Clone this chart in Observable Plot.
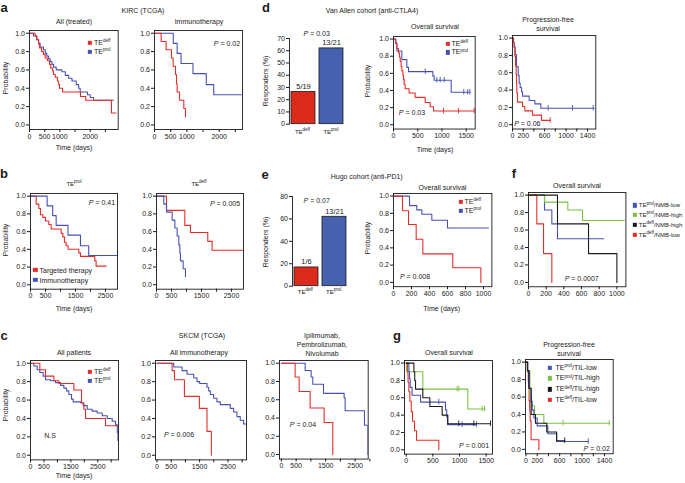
<!DOCTYPE html>
<html><head><meta charset="utf-8">
<script src="https://cdn.jsdelivr.net/npm/d3@7"></script>
<script src="https://cdn.jsdelivr.net/npm/@observablehq/plot@0.6"></script>
<style>
body{margin:0;background:#fff}
#root{position:relative;width:685px;height:483px;overflow:hidden;font-family:"Liberation Sans",Arial,sans-serif;color:#1a1a1a;background:#fff}
.t{position:absolute;white-space:nowrap;font-size:7px;line-height:1;transform:translate(-50%,-50%)}
.l{transform:translate(0,-50%)}
.rot{transform:translate(-50%,-50%) rotate(-90deg)}
.lt{font-weight:bold;font-size:13px}
.sm{font-size:6px}
.sw{position:absolute;width:4.3px;height:4.3px;transform:translate(-50%,-50%)}
sup{font-size:4.5px;vertical-align:0;position:relative;top:-2.6px}
svg.p{position:absolute;overflow:visible}
</style></head>
<body><div id="root"></div>
<script>
// ---------- colours ----------
const RED="#e52d27", BLUE="#4751b5", GREEN="#7cc242", BLACK="#1a1a1a";
const BAR_RED="#dc2b1c", BAR_BLUE="#4661ad";

// ---------- a: KIRC (TCGA) ----------
const aAllDeffT=[0,187,240,300,330,400,460,515,590,660,700,760,790,850,920,960,990,1090,1680,1850,2700,2850];
const aAllDeffS=[1,0.97,0.93,0.88,0.84,0.80,0.77,0.73,0.70,0.66,0.62,0.59,0.55,0.52,0.48,0.44,0.40,0.36,0.31,0.27,0.13,0.13];
const aAllProlT=[0,130,240,300,350,460,520,570,630,680,740,790,880,1070,1180,1290,1400,1540,1620,1670,1910,2000,2110,2770];
const aAllProlS=[1,0.97,0.93,0.89,0.85,0.82,0.78,0.75,0.72,0.69,0.66,0.63,0.60,0.58,0.54,0.51,0.48,0.44,0.40,0.36,0.33,0.30,0.27,0.27];
const aImmDeffT=[0,206,360,525,577,649,680,700,773,906,958];
const aImmDeffS=[1,0.91,0.82,0.73,0.64,0.55,0.45,0.36,0.27,0.18,0.09];
const aImmProlT=[0,580,700,820,1190,1600,1830,2680];
const aImmProlS=[1,0.89,0.78,0.67,0.56,0.44,0.33,0.33];

// ---------- b ----------
const bProlTarT=[0,189,278,333,411,500,611,688,1021,1077,1132,1188,1254,1610,1665,2142,2187,2520];
const bProlTarS=[1,0.91,0.86,0.79,0.76,0.72,0.68,0.63,0.58,0.54,0.48,0.44,0.40,0.36,0.32,0.27,0.21,0.21];
const bProlImmT=[0,555,740,855,1250,1665,1940,2890];
const bProlImmS=[1,0.89,0.78,0.67,0.56,0.44,0.33,0.33];
const bDeffTarT=[0,333,944,1132,1709,1854,2886];
const bDeffTarS=[1,0.84,0.67,0.59,0.49,0.39,0.39];
const bDeffImmT=[0,244,333,522,611,688,744,777,799,888,966];
const bDeffImmS=[1,0.91,0.82,0.73,0.64,0.55,0.45,0.36,0.27,0.18,0.09];

// ---------- c: SKCM (TCGA) ----------
const cAllDeffT=[0,347,558,868,1054,1612,1897,1984,2046,2790,3249];
const cAllDeffS=[1,0.93,0.86,0.81,0.78,0.71,0.57,0.50,0.40,0.32,0.32];
const cAllProlT=[0,124,248,347,471,558,744,930,1116,1240,1339,1426,1525,1587,1860,1959,2108,2294,2480,2666,2852,3038,3162,3224,3249];
const cAllProlS=[1,0.97,0.93,0.90,0.86,0.82,0.81,0.79,0.76,0.73,0.70,0.66,0.61,0.58,0.57,0.54,0.50,0.48,0.46,0.43,0.40,0.37,0.33,0.25,0.16];
const cImmDeffT=[0,532,614,965,1492,1760,1913];
const cImmDeffS=[1,0.92,0.82,0.64,0.51,0.26,0];
const cImmProlT=[0,590,883,1059,1293,1410,1503,1760,1820,1878,1995,2112,2229,2580,2697,2814,2931,3048,3140];
const cImmProlS=[1,0.96,0.92,0.88,0.84,0.80,0.78,0.74,0.70,0.66,0.62,0.58,0.55,0.51,0.47,0.42,0.38,0.34,0.34];
const cIpiDeffT=[0,466,602,975,1449,1743];
const cIpiDeffS=[1,0.85,0.69,0.51,0.35,0];
const cIpiProlT=[0,805,1008,1065,1427,2127,2161,2817,2930];
const cIpiProlS=[1,0.92,0.85,0.77,0.67,0.62,0.48,0.32,0];

// ---------- d: Van Allen cohort ----------
const dCats=["deff","prol"];
const dResp=[26.3,61.9];
const dLabs=["5/19","13/21"];
const dOsDeffT=[0,41,69,103,124,138,158,172,193,206,220,241,323,447,654,757,826,1665];
const dOsDeffS=[1,0.95,0.89,0.84,0.79,0.74,0.68,0.63,0.58,0.53,0.47,0.42,0.37,0.32,0.26,0.21,0.16,0.16];
const dOsDeffCT=[1032,1342,1665];
const dOsDeffCS=[0.16,0.16,0.16];
const dOsProlT=[0,50,69,172,275,310,812,839,1190,1582];
const dOsProlS=[1,0.95,0.86,0.76,0.67,0.62,0.57,0.52,0.38,0.38];
const dOsProlCT=[654,894,963,1046,1450,1530,1575];
const dOsProlCS=[0.62,0.52,0.52,0.52,0.38,0.38,0.38];
const dPfsDeffT=[0,19,31,44,56,68,75,81,93,187,230,373,541,703];
const dPfsDeffS=[1,0.95,0.89,0.79,0.68,0.58,0.47,0.37,0.26,0.21,0.16,0.11,0.05,0.05];
const dPfsDeffCT=[703];
const dPfsDeffCS=[0.05];
const dPfsProlT=[0,19,31,50,75,106,124,143,168,187,311,417,529,1524];
const dPfsProlS=[1,0.95,0.90,0.81,0.67,0.57,0.48,0.43,0.38,0.33,0.28,0.24,0.19,0.19];
const dPfsProlCT=[665,1119,1505];
const dPfsProlCS=[0.19,0.19,0.19];

// ---------- e: Hugo cohort ----------
const eCats=["deff","prol"];
const eResp=[16.7,61.9];
const eLabs=["1/6","13/21"];
const eOsDeffT=[0,100,167,252,326,659,971];
const eOsDeffS=[1,0.83,0.67,0.50,0.33,0.17,0];
const eOsProlT=[0,178,259,315,426,600,1055];
const eOsProlS=[1,0.89,0.84,0.79,0.72,0.63,0.63];

// ---------- f: NMB ----------
const fProlLowT=[0,181,264,328,850];   const fProlLowS=[1,0.83,0.67,0.50,0.50];
const fProlHighT=[0,181,445,611,1083]; const fProlHighS=[1,0.92,0.83,0.71,0.71];
const fDeffHighT=[0,328,679,1000];     const fDeffHighS=[1,0.67,0.33,0];
const fDeffLowT=[0,94,170,264];        const fDeffLowS=[1,0.67,0.33,0];

// ---------- g: TIL ----------
const gOsDeffLowT=[0,25,35,50,69,94,119,156,194,612];
const gOsDeffLowS=[1,0.89,0.78,0.67,0.56,0.44,0.33,0.22,0.11,0];
const gOsProlHighT=[0,6,312,1156,1487];
const gOsProlHighS=[1,0.9,0.7,0.47,0.47];
const gOsProlHighCT=[956,987,1425,1470];
const gOsProlHighCS=[0.7,0.7,0.47,0.47];
const gOsDeffHighT=[0,144,160,175,312,444,675,781,1581];
const gOsDeffHighS=[1,0.9,0.8,0.7,0.6,0.5,0.4,0.3,0.3];
const gOsDeffHighCT=[987,1269,1581];
const gOsDeffHighCS=[0.3,0.3,0.3];
const gOsProlLowT=[0,50,62,75,110,269,737,760,775,1319];
const gOsProlLowS=[1,0.9,0.82,0.72,0.63,0.55,0.46,0.38,0.29,0.29];
const gOsProlLowCT=[612,1050,1319];
const gOsProlLowCS=[0.55,0.29,0.29];
const gPfsDeffLowT=[0,25,40,55,65,75,90,230];
const gPfsDeffLowS=[1,0.89,0.78,0.56,0.44,0.33,0.11,0];
const gPfsProlHighT=[0,20,70,100,152,318,1490];
const gPfsProlHighS=[1,0.9,0.6,0.5,0.4,0.3,0.3];
const gPfsProlHighCT=[662,1485];
const gPfsProlHighCS=[0.3,0.3];
const gPfsDeffHighT=[0,30,50,92,169,370,546,695];
const gPfsDeffHighS=[1,0.9,0.7,0.4,0.3,0.2,0.1,0.1];
const gPfsDeffHighCT=[690];
const gPfsDeffHighCS=[0.1];
const gPfsProlLowT=[0,30,60,90,110,140,199,389,546,1113];
const gPfsProlLowS=[1,0.9,0.7,0.55,0.45,0.36,0.27,0.18,0.09,0.09];
const gPfsProlLowCT=[1110];
const gPfsProlLowCS=[0.09];

// ---------- tick values ----------
const probTicks=[0,0.2,0.4,0.6,0.8,1];
const t500=[0,500,1000,1500,2000,2500];
const t500c=[0,500,1000,1500,2000,2500,3000];
const t200=[0,200,400,600,800,1000,1200,1400];
const t200e=[0,200,400,600,800,1000];
const t500d=[0,500,1000,1500];

// ================= drawing =================
const root=document.getElementById("root");
const FONT='"Liberation Sans",Arial,sans-serif';
function place(svg,x,y){svg.classList.add("p");svg.style.left=x+"px";svg.style.top=y+"px";root.appendChild(svg);}
function T(x,y,html,cls=""){const d=document.createElement("div");d.className="t "+cls;d.style.left=x+"px";d.style.top=y+"px";d.innerHTML=html;root.appendChild(d);}
function SW(x,y,col){const d=document.createElement("div");d.className="sw";d.style.left=x+"px";d.style.top=y+"px";d.style.background=col;root.appendChild(d);}
function series(t,s,color,ct,cs){return {t,s,color,ct,cs};}

function km(p){
  const mL=22,mR=2,mT=2,mB=16,pt=0.03,pb=0.05;
  const unit=p.y0-p.y1, top=p.y1-pt*unit, fh=(1+pt+pb)*unit, fw=p.xr-p.xl;
  const xdom=[(p.xl-p.x0)/p.k,(p.xr-p.x0)/p.k];
  const marks=[];
  p.curves.forEach(c=>{
    const data=c.t.map((t,i)=>({t,s:c.s[i]}));
    marks.push(Plot.line(data,{x:"t",y:"s",curve:"step-after",stroke:c.color,strokeWidth:1.1,clip:true}));
    if(c.ct) marks.push(Plot.ruleX(c.ct.map((t,i)=>({t,s:c.cs[i]})),{x:"t",y1:d=>d.s-0.032,y2:d=>d.s+0.032,stroke:c.color,strokeWidth:0.9}));
  });
  marks.push(Plot.frame({stroke:"#1a1a1a",strokeWidth:0.9}));
  marks.push(Plot.axisX({ticks:p.xt,tickSize:3,tickPadding:1,tickFormat:d=>p.xl2.includes(d)?String(d):""}));
  marks.push(Plot.axisY({ticks:probTicks,tickSize:3,tickPadding:1.5,tickFormat:d3.format(".1f")}));
  const svg=Plot.plot({width:fw+mL+mR,height:fh+mT+mB,marginLeft:mL,marginRight:mR,marginTop:mT,marginBottom:mB,
    x:{domain:xdom,label:null},y:{domain:[-pb,1+pt],label:null},
    style:{fontSize:"7px",fontFamily:FONT,background:"transparent",color:"#1a1a1a",overflow:"visible"},marks});
  place(svg,p.xl-mL,top-mT);
}

function bars(p){
  const mL=20,mR=2,mT=12,mB=2;
  const fw=p.xr-p.xl, fh=p.y0-p.yTop;
  const data=p.cats.map((c,i)=>({c,v:p.vals[i],lab:p.labs[i],col:p.cols[i]}));
  const svg=Plot.plot({width:fw+mL+mR,height:fh+mT+mB,marginLeft:mL,marginRight:mR,marginTop:mT,marginBottom:mB,
    x:{domain:p.cats,paddingInner:0.15,paddingOuter:0.05,axis:null,label:null},
    y:{domain:[0,p.ymax],label:null},
    color:{type:"identity"},
    style:{fontSize:"7px",fontFamily:FONT,background:"transparent",color:"#1a1a1a",overflow:"visible"},
    marks:[
      Plot.barY(data,{x:"c",y:"v",fill:"col",stroke:"#1a1a1a",strokeWidth:0.8}),
      Plot.text(data,{x:"c",y:"v",text:"lab",dy:-5.5,fontSize:7.5}),
      Plot.axisY({ticks:p.yt,tickSize:3,tickPadding:1.5}),
      Plot.frame({anchor:"left",stroke:"#1a1a1a",strokeWidth:0.9})
    ]});
  place(svg,p.xl-mL,p.yTop-mT);
}

// ---- a ----
km({x0:29.3,xl:29.3,xr:118,k:0.03035,y1:32.3,y0:124,xt:t500,xl2:[0,500,1000,2000],
  curves:[series(aAllProlT,aAllProlS,BLUE),series(aAllDeffT,aAllDeffS,RED)]});
km({x0:154,xl:154,xr:242,k:0.03235,y1:32.3,y0:124,xt:t500,xl2:[0,500,1000,2000],
  curves:[series(aImmProlT,aImmProlS,BLUE),series(aImmDeffT,aImmDeffS,RED)]});
// ---- b ----
km({x0:30,xl:30,xr:117,k:0.030,y1:195.7,y0:284.3,xt:t500,xl2:[0,500,1500,2500],
  curves:[series(bProlTarT,bProlTarS,RED),series(bProlImmT,bProlImmS,BLUE)]});
km({x0:156,xl:156,xr:243,k:0.030,y1:195.7,y0:284.3,xt:t500,xl2:[0,500,1500,2500],
  curves:[series(bDeffTarT,bDeffTarS,RED),series(bDeffImmT,bDeffImmS,BLUE)]});
// ---- c ----
km({x0:30,xl:30,xr:118,k:0.0269,y1:362.3,y0:454.3,xt:t500c,xl2:[0,500,1500,2500],
  curves:[series(cAllProlT,cAllProlS,BLUE),series(cAllDeffT,cAllDeffS,RED)]});
km({x0:156.5,xl:155,xr:246,k:0.0284,y1:362.3,y0:454.3,xt:t500c,xl2:[0,500,1500,2500],
  curves:[series(cImmProlT,cImmProlS,BLUE),series(cImmDeffT,cImmDeffS,RED)]});
km({x0:281.2,xl:279.3,xr:368,k:0.0295,y1:362.7,y0:454,xt:t500c,xl2:[0,500,1500,2500],
  curves:[series(cIpiProlT,cIpiProlS,BLUE),series(cIpiDeffT,cIpiDeffS,RED)]});
// ---- d ----
bars({xl:289.3,xr:345,yTop:38.3,y0:124,ymax:70,yt:[0,10,20,30,40,50,60,70],cats:dCats,vals:dResp,labs:dLabs,cols:[BAR_RED,BAR_BLUE]});
km({x0:393.3,xl:393.3,xr:475,k:0.04847,y1:38.3,y0:124,xt:t500d,xl2:t500d,
  curves:[series(dOsProlT,dOsProlS,BLUE,dOsProlCT,dOsProlCS),series(dOsDeffT,dOsDeffS,RED,dOsDeffCT,dOsDeffCS)]});
km({x0:511.7,xl:511.7,xr:595,k:0.0536,y1:37.7,y0:124.3,xt:t200,xl2:[0,200,600,1000,1400],
  curves:[series(dPfsProlT,dPfsProlS,BLUE,dPfsProlCT,dPfsProlCS),series(dPfsDeffT,dPfsDeffS,RED,dPfsDeffCT,dPfsDeffCS)]});
// ---- e ----
bars({xl:291.7,xr:348,yTop:196,y0:285.7,ymax:80,yt:[0,20,40,60,80],cats:eCats,vals:eResp,labs:eLabs,cols:[BAR_RED,BAR_BLUE]});
km({x0:393.3,xl:393.3,xr:491.7,k:0.090,y1:196,y0:282.3,xt:t200e,xl2:t200e,
  curves:[series(eOsProlT,eOsProlS,BLUE),series(eOsDeffT,eOsDeffS,RED)]});
// ---- f ----
km({x0:528.3,xl:528.3,xr:625.7,k:0.0884,y1:195,y0:282.3,xt:t200e,xl2:t200e,
  curves:[series(fProlLowT,fProlLowS,BLUE),series(fProlHighT,fProlHighS,GREEN),series(fDeffLowT,fDeffLowS,RED),series(fDeffHighT,fDeffHighS,BLACK)]});
// ---- g ----
km({x0:405.7,xl:404,xr:492,k:0.0533,y1:362.3,y0:449,xt:t500d,xl2:t500d,
  curves:[series(gOsDeffLowT,gOsDeffLowS,RED),series(gOsProlHighT,gOsProlHighS,GREEN,gOsProlHighCT,gOsProlHighCS),
          series(gOsProlLowT,gOsProlLowS,BLUE,gOsProlLowCT,gOsProlLowCS),series(gOsDeffHighT,gOsDeffHighS,BLACK,gOsDeffHighCT,gOsDeffHighCS)]});
km({x0:525.5,xl:525,xr:612.7,k:0.0561,y1:361.7,y0:449,xt:t200,xl2:[0,200,600,1000,1400],
  curves:[series(gPfsDeffLowT,gPfsDeffLowS,RED),series(gPfsProlHighT,gPfsProlHighS,GREEN,gPfsProlHighCT,gPfsProlHighCS),
          series(gPfsProlLowT,gPfsProlLowS,BLUE,gPfsProlLowCT,gPfsProlLowCS),series(gPfsDeffHighT,gPfsDeffHighS,BLACK,gPfsDeffHighCT,gPfsDeffHighCS)]});

// ================= text =================
const P=v=>"<i>P</i> = "+v;
const TD="TE<sup>deff</sup>", TP="TE<sup>prol</sup>";
// a
T(4,6.5,"a","lt"); T(143,10,"KIRC (TCGA)"); T(74,21,"All (treated)"); T(199,21,"Immunotherapy");
T(5,78,"Probability","rot"); T(74,147,"Time (days)"); T(227,43,P("0.02"));
SW(89.5,43,RED); SW(89.5,52,BLUE); T(94,43,TD,"l"); T(94,52,TP,"l");
// b
T(4,173,"b","lt"); T(74,184,TP,"sm"); T(199,184,TD,"sm");
T(5,240,"Probability","rot"); T(74,307.5,"Time (days)");
T(102,202,P("0.41")); T(225,203,P("0.005"));
SW(35.3,270,RED); SW(35.3,279.5,BLUE); T(39.5,270,"Targeted therapy","l"); T(39.5,279.5,"Immunotherapy","l");
// c
T(4,335,"c","lt"); T(202,335,"SKCM (TCGA)"); T(74,352,"All patients"); T(199,352,"All immunotherapy");
T(322,335,"Ipilimumab,"); T(322,343.5,"Pembrolizumab,"); T(322,352.5,"Nivolumab");
T(5,405,"Probability","rot"); T(74,475,"Time (days)");
T(50,435,"N.S"); T(179,434,P("0.006")); T(303,424,P("0.04"));
SW(89.5,371.5,RED); SW(89.5,380.5,BLUE); T(94,371.5,TD,"l"); T(94,380.5,TP,"l");
// d
T(266,7,"d","lt"); T(372,10,"Van Allen cohort (anti-CTLA4)"); T(316.7,33,P("0.03"));
T(265,81,"Responders (%)","rot"); T(302.5,132,TD,"sm"); T(331,132,TP,"sm");
T(435,26,"Overall survival"); T(366.7,81,"Probability","rot"); T(435,149,"Time (days)");
SW(447.5,43.7,RED); SW(447.5,52.3,BLUE); T(451.5,43.7,TD,"l"); T(451.5,52.3,TP,"l");
T(412,111.7,P("0.03"));
T(548,19,"Progression-free"); T(548,27.5,"survival"); T(527.3,122.5,P("0.06"));
// e
T(265,174,"e","lt"); T(366.7,176,"Hugo cohort (anti-PD1)"); T(316.7,200,P("0.07"));
T(265,241.7,"Responders (%)","rot"); T(305.3,291.7,TD,"sm"); T(333.7,291.7,TP,"sm");
T(442.5,187.3,"Overall survival"); T(366.7,238,"Probability","rot"); T(441.7,307.7,"Time (days)");
SW(460.5,201.5,RED); SW(460.5,210.7,BLUE); T(464.5,201.5,TD,"l"); T(464.5,210.7,TP,"l");
T(415,276,P("0.008"));
// f
T(514,173,"f","lt"); T(577,185,"Overall survival"); T(581.7,277.7,P("0.0007"));
SW(634.5,205.3,BLUE); SW(634.5,214.7,GREEN); SW(634.5,224.8,BLACK); SW(634.5,234.7,RED);
T(638.8,205.3,TP+"/NMB-low","l sm"); T(638.8,214.7,TP+"/NMB-high","l sm");
T(638.8,224.8,TD+"/NMB-high","l sm"); T(638.8,234.7,TD+"/NMB-low","l sm");
// g
T(397,335,"g","lt"); T(449,352.3,"Overall survival"); T(474,445,P("0.001"));
T(569,344,"Progression-free"); T(569,352.7,"survival"); T(596.7,447.7,P("0.02"));
SW(549.7,367.7,BLUE); SW(549.7,378.3,GREEN); SW(549.7,389.3,BLACK); SW(549.7,400,RED);
T(555.5,367.7,TP+"/TIL-low","l"); T(555.5,378.3,TP+"/TIL-high","l");
T(555.5,389.3,TD+"/TIL-high","l"); T(555.5,400,TD+"/TIL-low","l");
</script></body></html>
